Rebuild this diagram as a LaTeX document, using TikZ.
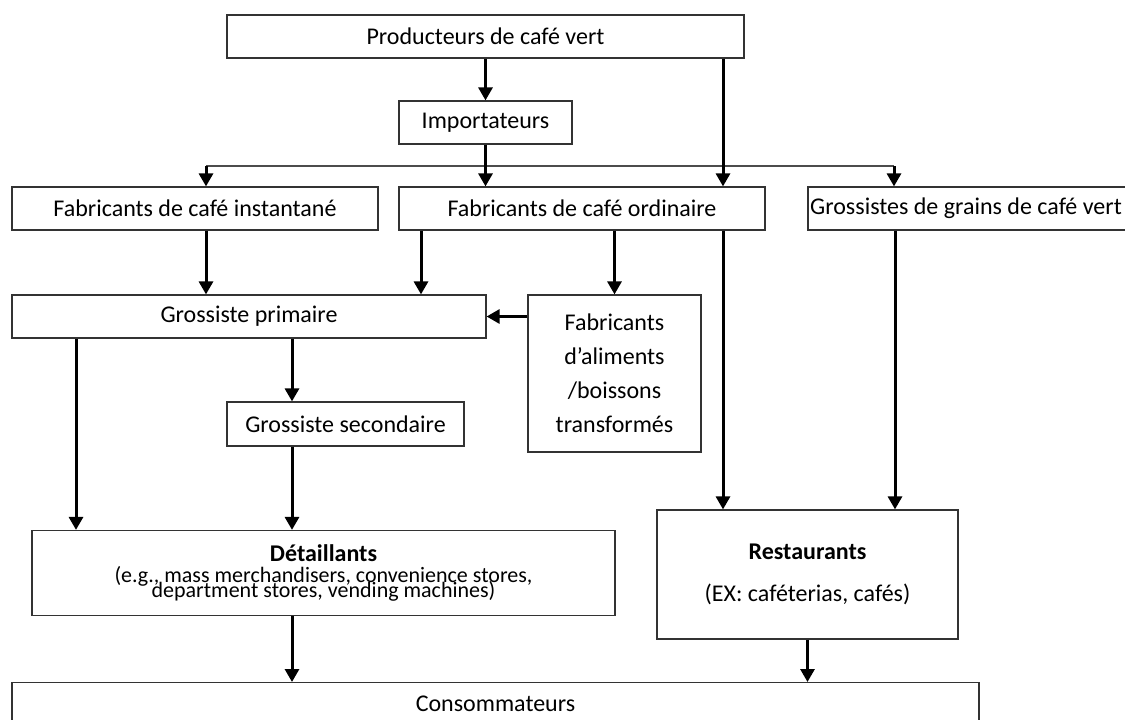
\documentclass[tikz,border=0pt]{standalone}
\usepackage{fontspec}
\setmainfont{Carlito}
\usetikzlibrary{arrows.meta}
\begin{document}
\begin{tikzpicture}[x=1pt,y=-1pt,
  box/.style={draw=black!80, line width=1.2pt, rectangle, inner sep=0pt,
    font=\fontsize{24}{28}\selectfont, align=center},
  flow/.style={line width=3pt, -{Triangle[width=14pt,length=13pt]}},
  feed/.style={draw=black!70, line width=1.4pt}]
\clip (0,0) rectangle (1125,720);
% nodes
\node[box, minimum width=517pt, minimum height=43pt] (prod) at (485.5,36.5) {Producteurs de café vert};
\node[box, minimum width=173pt, minimum height=43pt] (imp) at (485.5,122.5) {Importateurs};
\node[box, minimum width=366pt, minimum height=43pt] (inst) at (195,208.5) {Fabricants de café instantané};
\node[box, minimum width=366pt, minimum height=43pt] (ord) at (582,208.5) {Fabricants de café ordinaire};
\node[box, minimum width=337pt, minimum height=43pt] (gros) at (976.5,208.5) {};
\node[font=\fontsize{24}{28}\selectfont, anchor=west, inner sep=0pt] (grostxt) at (810,208.5) {Grossistes de grains de café vert};
\node[box, minimum width=474pt, minimum height=43pt] (prim) at (249,316.5) {Grossiste primaire};
\node[box, minimum width=173pt, minimum height=157pt, font=\fontsize{24}{34}\selectfont] (alim) at (614.5,373.5) {Fabricants\\d’aliments\\/boissons\\transformés};
\node[box, minimum width=237pt, minimum height=44pt] (sec) at (345.5,424) {Grossiste secondaire};
\node[box, minimum width=583pt, minimum height=85pt, font=\fontsize{22}{21}\selectfont] (det) at (323.5,573)
  {{\fontsize{24}{21}\selectfont\bfseries Détaillants}\\(e.g., mass merchandisers, convenience stores,\\[-6pt]department stores, vending machines)};
\node[box, minimum width=301pt, minimum height=129pt, font=\fontsize{24}{42}\selectfont] (rest) at (807.5,574.5)
  {\textbf{Restaurants}\\(EX: caféterias, cafés)};
\node[box, minimum width=967pt, anchor=north, inner ysep=13pt, text height=16pt, text depth=40pt] (cons) at (495.5,682) {Consommateurs};
% helper coordinates
\coordinate (dl) at (206,166);
\coordinate (dr) at (894,166);
\coordinate (xr) at (723,0);
\coordinate (xa) at (76,0);
\coordinate (xb) at (292,0);
\coordinate (xc) at (421,0);
\coordinate (xg) at (895,0);
% connectors
\draw[flow] (prod.south) -- (imp.north);
\draw[feed] (dl) -- (dr);
\draw[flow] (imp.south) -- (imp.south |- ord.north);
\draw[flow] (dl) -- (dl |- inst.north);
\draw[flow] (dr) -- (dr |- gros.north);
\draw[flow] (prod.south -| xr) -- (ord.north -| xr);
\draw[flow] (inst.south -| dl) -- (prim.north -| dl);
\draw[flow] (ord.south -| xc) -- (prim.north -| xc);
\draw[flow] (ord.south -| alim.north) -- (alim.north);
\draw[flow] (ord.south -| xr) -- (rest.north -| xr);
\draw[flow] (gros.south -| xg) -- (rest.north -| xg);
\draw[flow] (alim.west |- prim.east) -- (prim.east);
\draw[flow] (prim.south -| xa) -- (det.north -| xa);
\draw[flow] (prim.south -| xb) -- (sec.north -| xb);
\draw[flow] (sec.south -| xb) -- (det.north -| xb);
\draw[flow] (det.south -| xb) -- (cons.north -| xb);
\draw[flow] (rest.south) -- (cons.north -| rest.south);
\end{tikzpicture}
\end{document}
